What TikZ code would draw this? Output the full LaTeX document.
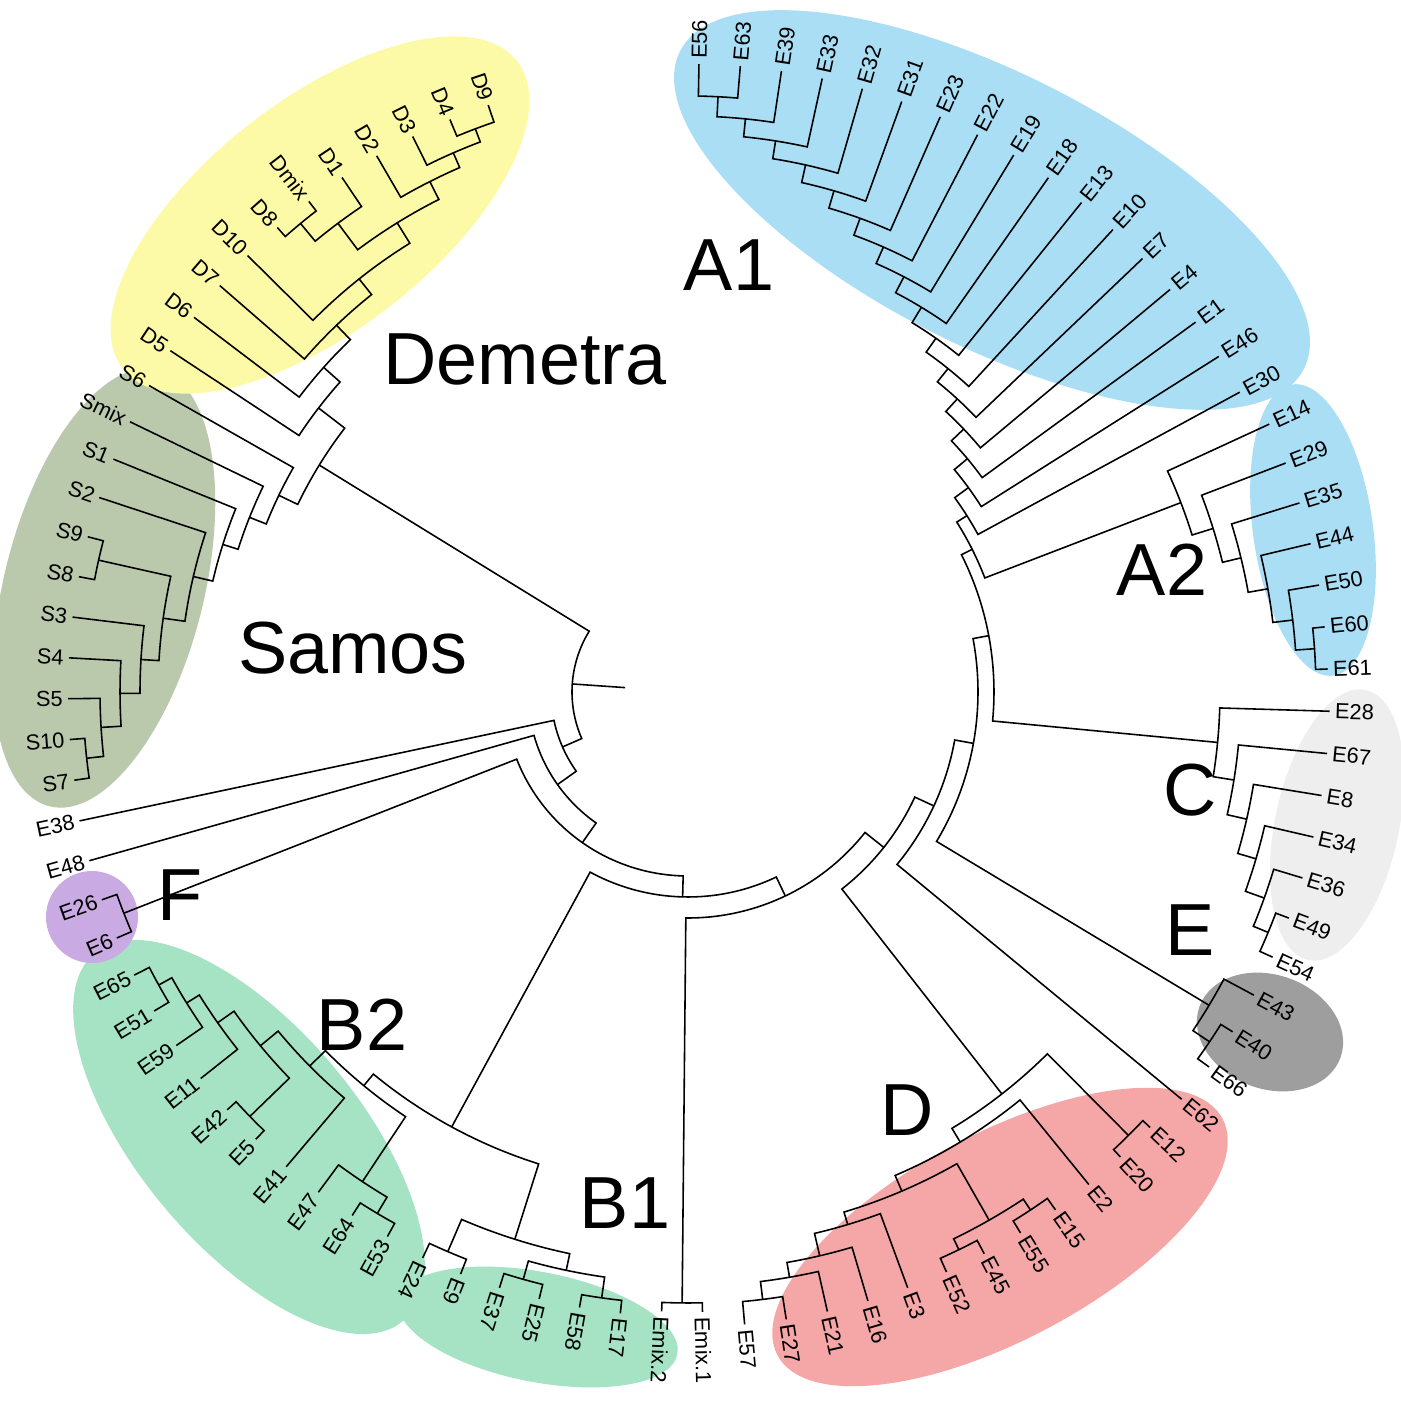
\documentclass[tikz,border=0pt]{standalone}
\usepackage{fontspec}
\setmainfont{Liberation Sans}
\usetikzlibrary{calc}

\definecolor{aBlue}{RGB}{170,222,245}
\definecolor{cGrey}{RGB}{238,238,238}
\definecolor{eGrey}{RGB}{158,158,158}
\definecolor{dPink}{RGB}{245,166,166}
\definecolor{bGreen}{RGB}{166,226,196}
\definecolor{fPurple}{RGB}{201,170,226}
\definecolor{sOlive}{RGB}{186,200,172}
\definecolor{dYellow}{RGB}{252,250,166}

\tikzset{
	branch/.style={line width=0.45pt, black},
	leaflabel/.style={inner sep=0.2pt, font=\fontsize{6.2}{6.5}\selectfont},
	cladename/.style={inner sep=0pt, font=\fontsize{21}{25}\selectfont},
}

% leaf: name, index round the fan, text
\def\tipr{6.25}
\newcommand\putleaf[3]{%
	\pgfmathsetmacro\ta{89-3.78*#2}%
	\expandafter\xdef\csname ang#1\endcsname{\ta}%
	\coordinate (#1) at (\ta:\tipr);%
	\pgfmathsetmacro\lr{\tipr+0.04}%
	\ifdim\ta pt>-117pt
		\node[leaflabel, anchor=west, rotate=\ta] (l#1) at (\ta:\lr) {#3};%
	\else
		\pgfmathsetmacro\tb{\ta+180}%
		\node[leaflabel, anchor=east, rotate=\tb] (l#1) at (\ta:\lr) {#3};%
	\fi
}
% inner node: name, child, child, radius
\newcommand\joinpair[4]{%
	\edef\fa{\csname ang#2\endcsname}%
	\edef\fb{\csname ang#3\endcsname}%
	\pgfmathsetmacro\fm{(\fa+\fb)/2}%
	\expandafter\xdef\csname ang#1\endcsname{\fm}%
	\coordinate (#1) at (\fm:#4);%
	\draw[branch] (#2) -- (\fa:#4) arc[start angle=\fa, end angle=\fb, radius=#4] -- (#3);%
}

\begin{document}
\begin{tikzpicture}
			%%%%% START %%%%%
			\useasboundingbox (-6.88,-7.11) rectangle (7.12,6.92);
			
			%%%%% CLADE SHADES %%%%%
			\fill[aBlue, rotate around={-27:(3.04,4.82)}] (3.04,4.82) ellipse (3.5 and 1.36);
			\fill[aBlue, rotate around={8:(6.25,1.62)}] (6.25,1.62) ellipse (0.6 and 1.47);
			\fill[cGrey, rotate around={-12:(6.49,-1.33)}] (6.49,-1.33) ellipse (0.62 and 1.38);
			\fill[eGrey, rotate around={-20:(5.82,-3.40)}] (5.82,-3.40) ellipse (0.75 and 0.57);
			\fill[dPink, rotate around={28:(3.12,-5.45)}] (3.12,-5.45) ellipse (2.52 and 1.03);
			\fill[bGreen, rotate around={-11:(-1.50,-6.35)}] (-1.50,-6.35) ellipse (1.42 and 0.55);
			\fill[bGreen, rotate around={-50:(-4.39,-4.45)}] (-4.39,-4.45) ellipse (2.4 and 1.1);
			\fill[fPurple] (-5.96,-2.25) circle (0.46);
			\fill[sOlive, rotate around={-14:(-5.84,1.04)}] (-5.84,1.04) ellipse (1.0 and 2.25);
			\fill[dYellow, rotate around={38:(-3.68,4.77)}] (-3.68,4.77) ellipse (2.5 and 1.15);
			
			%%%%% LEAVES %%%%%
			\def\tipr{6.28}
			\putleaf{E56}{0}{E56}	\putleaf{E63}{1}{E63}	\putleaf{E39}{2}{E39}
			\putleaf{E33}{3}{E33}	\putleaf{E32}{4}{E32}	\putleaf{E31}{5}{E31}
			\putleaf{E23}{6}{E23}	\putleaf{E22}{7}{E22}	\putleaf{E19}{8}{E19}
			\putleaf{E18}{9}{E18}	\putleaf{E13}{10}{E13}	\putleaf{E10}{11}{E10}
			\putleaf{E7}{12}{E7}	\putleaf{E4}{13}{E4}	\putleaf{E1}{14}{E1}
			\putleaf{E46}{15}{E46}	\putleaf{E30}{16}{E30}
			\def\tipr{6.4}
			\putleaf{E14}{17}{E14}	\putleaf{E29}{18}{E29}	\putleaf{E35}{19}{E35}
			\putleaf{E44}{20}{E44}	\putleaf{E50}{21}{E50}	\putleaf{E60}{22}{E60}
			\putleaf{E61}{23}{E61}
			\def\tipr{6.42}
			\putleaf{E28}{24}{E28}	\putleaf{E67}{25}{E67}	\putleaf{E8}{26}{E8}
			\putleaf{E34}{27}{E34}	\putleaf{E36}{28}{E36}	\putleaf{E49}{29}{E49}
			\putleaf{E54}{30}{E54}
			\putleaf{E43}{31}{E43}	\putleaf{E40}{32}{E40}	\putleaf{E66}{33}{E66}
			\def\tipr{6.4}
			\putleaf{E62}{34}{E62}
			\def\tipr{6.35}
			\putleaf{E12}{35}{E12}	\putleaf{E20}{36}{E20}	\putleaf{E2}{37}{E2}
			\putleaf{E15}{38}{E15}	\putleaf{E55}{39}{E55}	\putleaf{E45}{40}{E45}
			\putleaf{E52}{41}{E52}	\putleaf{E3}{42}{E3}	\putleaf{E16}{43}{E16}
			\putleaf{E21}{44}{E21}	\putleaf{E27}{45}{E27}	\putleaf{E57}{46}{E57}
			\def\tipr{6.2}
			\putleaf{Emixa}{47}{Emix.1}	\putleaf{Emixb}{48}{Emix.2}
			\def\tipr{6.25}
			\putleaf{E17}{49}{E17}	\putleaf{E58}{50}{E58}	\putleaf{E25}{51}{E25}
			\putleaf{E37}{52}{E37}	\putleaf{E9}{53}{E9}	\putleaf{E24}{54}{E24}
			\def\tipr{6.22}
			\putleaf{E53}{55}{E53}	\putleaf{E64}{56}{E64}	\putleaf{E47}{57}{E47}
			\putleaf{E41}{58}{E41}	\putleaf{E5}{59}{E5}	\putleaf{E42}{60}{E42}
			\putleaf{E11}{61}{E11}	\putleaf{E59}{62}{E59}	\putleaf{E51}{63}{E51}
			\putleaf{E65}{64}{E65}
			\putleaf{E6}{65}{E6}	\putleaf{E26}{66}{E26}
			\putleaf{E48}{67}{E48}	\putleaf{E38}{68}{E38}
			\def\tipr{6.2}
			\putleaf{S7}{69}{S7}	\putleaf{S10}{70}{S10}	\putleaf{S5}{71}{S5}
			\putleaf{S4}{72}{S4}	\putleaf{S3}{73}{S3}	\putleaf{S8}{74}{S8}
			\putleaf{S9}{75}{S9}	\putleaf{S2}{76}{S2}	\putleaf{S1}{77}{S1}
			\putleaf{Smix}{78}{Smix}	\putleaf{S6}{79}{S6}
			\putleaf{D5}{80}{D5}	\putleaf{D6}{81}{D6}	\putleaf{D7}{82}{D7}
			\putleaf{D10}{83}{D10}	\putleaf{D8}{84}{D8}	\putleaf{Dmix}{85}{Dmix}
			\putleaf{D1}{86}{D1}	\putleaf{D2}{87}{D2}	\putleaf{D3}{88}{D3}
			\putleaf{D4}{89}{D4}	\putleaf{D9}{90}{D9}
			
			%%%%% A1 %%%%%
			\joinpair{aa}{E56}{E63}{5.96}
			\joinpair{ab}{aa}{E39}{5.76}
			\joinpair{ac}{ab}{E33}{5.58}
			\joinpair{ad}{ac}{E32}{5.40}
			\joinpair{ae}{ad}{E31}{5.22}
			\joinpair{af}{ae}{E23}{5.04}
			\joinpair{ag}{af}{E22}{4.86}
			\joinpair{ah}{ag}{E19}{4.68}
			\joinpair{ai}{ah}{E18}{4.50}
			\joinpair{aj}{ai}{E13}{4.32}
			\joinpair{ak}{aj}{E10}{4.15}
			\joinpair{al}{ak}{E7}{3.98}
			\joinpair{am}{al}{E4}{3.81}
			\joinpair{an}{am}{E1}{3.64}
			\joinpair{ao}{an}{E46}{3.47}
			\joinpair{Aone}{ao}{E30}{3.30}
			%%%%% A2 %%%%%
			\joinpair{ba}{E60}{E61}{6.28}
			\joinpair{bb}{ba}{E50}{6.09}
			\joinpair{bc}{bb}{E44}{5.89}
			\joinpair{bd}{bc}{E35}{5.69}
			\joinpair{be}{bd}{E29}{5.50}
			\joinpair{Atwo}{be}{E14}{5.28}
			\joinpair{Aall}{Atwo}{Aone}{3.18}
			%%%%% C and E %%%%%
			\joinpair{ca}{E49}{E54}{6.28}
			\joinpair{cb}{ca}{E36}{6.12}
			\joinpair{cc}{cb}{E34}{5.92}
			\joinpair{cd}{cc}{E8}{5.73}
			\joinpair{ce}{cd}{E67}{5.53}
			\joinpair{Cc}{ce}{E28}{5.32}
			\joinpair{ea}{E40}{E66}{6.28}
			\joinpair{Ee}{E43}{ea}{6.08}
			%%%%% D %%%%%
			\joinpair{da}{E12}{E20}{6.25}
			\joinpair{db}{E15}{E55}{6.21}
			\joinpair{dc}{E45}{E52}{6.20}
			\joinpair{dd}{db}{dc}{6.08}
			\joinpair{de}{E27}{E57}{6.12}
			\joinpair{df}{E21}{de}{5.94}
			\joinpair{dg}{E16}{df}{5.79}
			\joinpair{dh}{E3}{dg}{5.56}
			\joinpair{di}{dd}{dh}{5.43}
			\joinpair{dj}{E2}{di}{5.26}
			\joinpair{Dd}{da}{dj}{5.10}
			\joinpair{Em}{Emixa}{Emixb}{6.11}
			%%%%% B1, B2, F %%%%%
			\joinpair{ga}{E58}{E17}{6.12}
			\joinpair{gb}{E25}{E37}{6.10}
			\joinpair{gc}{ga}{gb}{5.91}
			\joinpair{gd}{E9}{E24}{6.09}
			\joinpair{Bone}{gc}{gd}{5.74}
			\joinpair{ha}{E53}{E64}{6.07}
			\joinpair{hb}{ha}{E47}{5.88}
			\joinpair{hc}{E5}{E42}{6.10}
			\joinpair{hd}{E51}{E65}{6.05}
			\joinpair{he}{E59}{hd}{5.90}
			\joinpair{hf}{E11}{he}{5.75}
			\joinpair{hg}{hc}{hf}{5.55}
			\joinpair{hh}{E41}{hg}{5.32}
			\joinpair{Btwo}{hb}{hh}{5.10}
			\joinpair{Bb}{Bone}{Btwo}{4.95}
			\joinpair{Ff}{E6}{E26}{6.06}
			%%%%% SAMOS %%%%%
			\joinpair{sa}{S7}{S10}{6.05}
			\joinpair{sb}{sa}{S5}{5.88}
			\joinpair{sc}{sb}{S4}{5.68}
			\joinpair{sd}{sc}{S3}{5.48}
			\joinpair{se}{S8}{S9}{6.04}
			\joinpair{sf}{sd}{se}{5.30}
			\joinpair{sg}{sf}{S2}{5.08}
			\joinpair{sh}{sg}{S1}{4.88}
			\joinpair{si}{sh}{Smix}{4.72}
			\joinpair{Ss}{si}{S6}{4.54}
			%%%%% DEMETRA %%%%%
			\joinpair{ta}{D4}{D9}{6.02}
			\joinpair{tb}{D3}{ta}{5.88}
			\joinpair{tc}{D2}{tb}{5.72}
			\joinpair{td}{D8}{Dmix}{6.08}
			\joinpair{te}{td}{D1}{5.85}
			\joinpair{tf}{te}{tc}{5.52}
			\joinpair{tg}{D10}{tf}{5.28}
			\joinpair{th}{D7}{tg}{5.08}
			\joinpair{ti}{D6}{th}{4.88}
			\joinpair{Dem}{D5}{ti}{4.66}
			\joinpair{DS}{Ss}{Dem}{4.33}
			
			%%%%% BACKBONE %%%%%
			\joinpair{nine}{Cc}{Aall}{3.06}
			\joinpair{eight}{Ee}{nine}{2.90}
			\joinpair{seven}{E62}{eight}{2.71}
			\joinpair{six}{Dd}{seven}{2.50}
			\joinpair{five}{Em}{six}{2.26}
			\joinpair{four}{Bb}{five}{2.05}
			\joinpair{three}{Ff}{four}{1.84}
			\joinpair{two}{E48}{three}{1.60}
			\joinpair{one}{E38}{two}{1.37}
			\joinpair{root}{DS}{one}{1.16}
			\draw[branch] (root) -- (\csname angroot\endcsname:0.63);
			
			%%%%% CLADE NAMES %%%%%
			\node[cladename] (nA1) at (0.41,4.27) {A1};
			\node[cladename] (nDem) at (-1.63,3.33) {Demetra};
			\node[cladename] (nA2) at (4.74,1.22) {A2};
			\node[cladename] (nSam) at (-3.35,0.44) {Samos};
			\node[cladename] (nC) at (5.02,-0.98) {C};
			\node[cladename] (nE) at (5.02,-2.38) {E};
			\node[cladename] (nF) at (-5.08,-2.03) {F};
			\node[cladename] (nB2) at (-3.26,-3.33) {B2};
			\node[cladename] (nD) at (2.19,-4.18) {D};
			\node[cladename] (nB1) at (-0.63,-5.11) {B1};
			
			%%%%% END %%%%%
\end{tikzpicture}
\end{document}
